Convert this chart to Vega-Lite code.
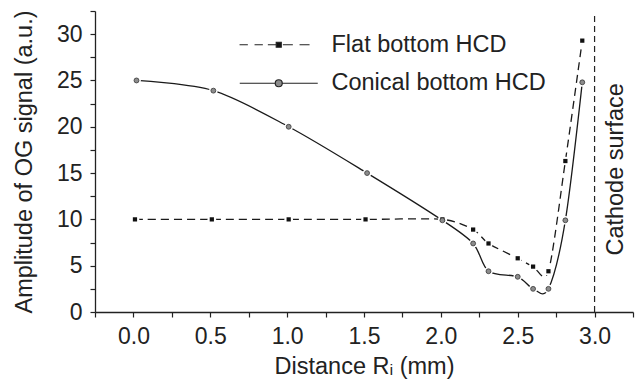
{
  "$schema": "https://vega.github.io/schema/vega-lite/v6.json",
  "width": 538,
  "height": 301,
  "autosize": {"type": "none"},
  "padding": {"left": 95, "top": 11, "right": 6, "bottom": 74},
  "background": "white",
  "config": {
    "view": {"stroke": null},
    "font": "Liberation Sans",
    "axis": {
      "domainColor": "#222", "domainWidth": 1.3, "tickColor": "#222", "tickWidth": 1.2, "tickSize": 5,
      "grid": false, "labelFont": "Liberation Sans", "labelFontSize": 23, "labelColor": "#222",
      "titleFont": "Liberation Sans", "titleFontSize": 23.5, "titleFontWeight": "normal", "titleColor": "#222",
      "labelOverlap": false, "labelFlush": false
    },
    "legend": {
      "labelFont": "Liberation Sans", "labelFontSize": 23.5, "labelColor": "#222", "labelLimit": 400,
      "symbolSize": 400, "symbolStrokeWidth": 1.2, "symbolStrokeColor": "#222", "symbolOpacity": 1,
      "padding": 0, "rowPadding": 13.5, "labelOffset": 41
    }
  },
  "datasets": {
    "curves": [
      {"series": "Flat bottom HCD", "x": 0.01, "y": 10},
      {"series": "Flat bottom HCD", "x": 0.51, "y": 10},
      {"series": "Flat bottom HCD", "x": 1.01, "y": 10},
      {"series": "Flat bottom HCD", "x": 1.51, "y": 10},
      {"series": "Flat bottom HCD", "x": 2.01, "y": 10},
      {"series": "Flat bottom HCD", "x": 2.21, "y": 8.9},
      {"series": "Flat bottom HCD", "x": 2.31, "y": 7.4},
      {"series": "Flat bottom HCD", "x": 2.5, "y": 5.8},
      {"series": "Flat bottom HCD", "x": 2.6, "y": 4.9},
      {"series": "Flat bottom HCD", "x": 2.7, "y": 4.4},
      {"series": "Flat bottom HCD", "x": 2.81, "y": 16.3},
      {"series": "Flat bottom HCD", "x": 2.92, "y": 29.3},
      {"series": "Conical bottom HCD", "x": 0.02, "y": 25},
      {"series": "Conical bottom HCD", "x": 0.52, "y": 23.9},
      {"series": "Conical bottom HCD", "x": 1.01, "y": 20},
      {"series": "Conical bottom HCD", "x": 1.52, "y": 15},
      {"series": "Conical bottom HCD", "x": 2.01, "y": 9.9},
      {"series": "Conical bottom HCD", "x": 2.21, "y": 7.4},
      {"series": "Conical bottom HCD", "x": 2.31, "y": 4.4},
      {"series": "Conical bottom HCD", "x": 2.5, "y": 3.8},
      {"series": "Conical bottom HCD", "x": 2.6, "y": 2.5},
      {"series": "Conical bottom HCD", "x": 2.7, "y": 2.5},
      {"series": "Conical bottom HCD", "x": 2.81, "y": 9.9},
      {"series": "Conical bottom HCD", "x": 2.92, "y": 24.8}
    ]
  },
  "data": {"name": "curves"},
  "encoding": {
    "x": {
      "field": "x", "type": "quantitative",
      "scale": {"domain": [-0.25, 3.25], "nice": false, "zero": false},
      "axis": {
        "title": "Distance Rᵢ  (mm)",
        "values": [-0.25, 0, 0.25, 0.5, 0.75, 1, 1.25, 1.5, 1.75, 2, 2.25, 2.5, 2.75, 3, 3.25],
        "labelExpr": "abs(datum.value*2 - round(datum.value*2)) < 0.001 && datum.value >= 0 && datum.value <= 3 ? format(datum.value, '.1f') : ''",
        "labelPadding": 8, "titlePadding": 6
      }
    },
    "y": {
      "field": "y", "type": "quantitative",
      "scale": {"domain": [0, 32.5], "nice": false, "zero": false},
      "axis": {
        "title": "Amplitude of OG signal (a.u.)",
        "values": [0, 2.5, 5, 7.5, 10, 12.5, 15, 17.5, 20, 22.5, 25, 27.5, 30, 32.5],
        "labelExpr": "datum.value % 5 == 0 && datum.value <= 30 ? format(datum.value, 'd') : ''",
        "labelPadding": 8, "titlePadding": 20
      }
    }
  },
  "layer": [
    {
      "transform": [{"filter": "datum.series == 'Flat bottom HCD' && datum.x == 0.01"}],
      "mark": {"type": "rule", "stroke": "#222", "strokeWidth": 1.2, "strokeDash": [6, 4]},
      "encoding": {"x": {"datum": 3}, "y": {"datum": 0}, "y2": {"datum": 32.1}}
    },
    {
      "transform": [{"filter": "datum.series == 'Flat bottom HCD'"}],
      "mark": {"type": "line", "interpolate": "cardinal", "tension": 0.2, "stroke": "#1a1a1a", "strokeWidth": 1.3, "strokeDash": [8, 5]}
    },
    {
      "transform": [{"filter": "datum.series == 'Conical bottom HCD'"}],
      "mark": {"type": "line", "interpolate": "cardinal", "tension": 0.1, "stroke": "#1a1a1a", "strokeWidth": 1.3}
    },
    {
      "mark": {"type": "point", "shape": "circle", "filled": true, "fill": "white", "opacity": 1, "size": 75}
    },
    {
      "transform": [{"filter": "datum.series == 'Flat bottom HCD'"}],
      "mark": {"type": "point", "shape": "square", "filled": true, "fill": "#111", "opacity": 1, "size": 18}
    },
    {
      "transform": [{"filter": "datum.series == 'Conical bottom HCD'"}],
      "mark": {"type": "point", "shape": "circle", "filled": true, "fill": "#8c8c8c", "stroke": "#333", "strokeWidth": 0.8, "opacity": 1, "size": 24}
    },
    {
      "transform": [{"filter": "false"}],
      "mark": {"type": "point", "filled": true, "stroke": "#222", "strokeWidth": 1.2, "opacity": 1},
      "encoding": {
        "shape": {
          "field": "series", "type": "nominal",
          "scale": {
            "domain": ["Flat bottom HCD", "Conical bottom HCD"],
            "range": [
              "M-3.92,0H-3.09M-2.42,0H-1.59M-1.09,0H-0.3M-0.25,-0.25H0.25V0.25H-0.25ZM0.41,0H1.41M2.08,0H3.08",
              "M-3.9,0H-0.35M0.35,0H3.9M0.35,0A0.35,0.35,0,1,1,-0.35,0A0.35,0.35,0,1,1,0.35,0Z"
            ]
          },
          "legend": {
            "title": null, "orient": "none", "legendX": 172, "legendY": 22,
            "encode": {"symbols": {"update": {"stroke": {"value": "#222"}, "strokeWidth": {"value": 1.2}, "opacity": {"value": 1}}}}
          }
        },
        "fill": {
          "field": "series", "type": "nominal",
          "scale": {"domain": ["Flat bottom HCD", "Conical bottom HCD"], "range": ["#111", "#8c8c8c"]},
          "legend": {
            "title": null, "orient": "none", "legendX": 172, "legendY": 22,
            "encode": {"symbols": {"update": {"stroke": {"value": "#222"}, "strokeWidth": {"value": 1.2}, "opacity": {"value": 1}}}}
          }
        }
      }
    },
    {
      "transform": [{"filter": "datum.series == 'Flat bottom HCD' && datum.x == 0.01"}],
      "mark": {"type": "text", "text": "Cathode surface", "angle": 270, "align": "center", "baseline": "middle", "font": "Liberation Sans", "fontSize": 23.5, "fill": "#222"},
      "encoding": {"x": {"datum": 3.14}, "y": {"datum": 15.4}}
    }
  ]
}
